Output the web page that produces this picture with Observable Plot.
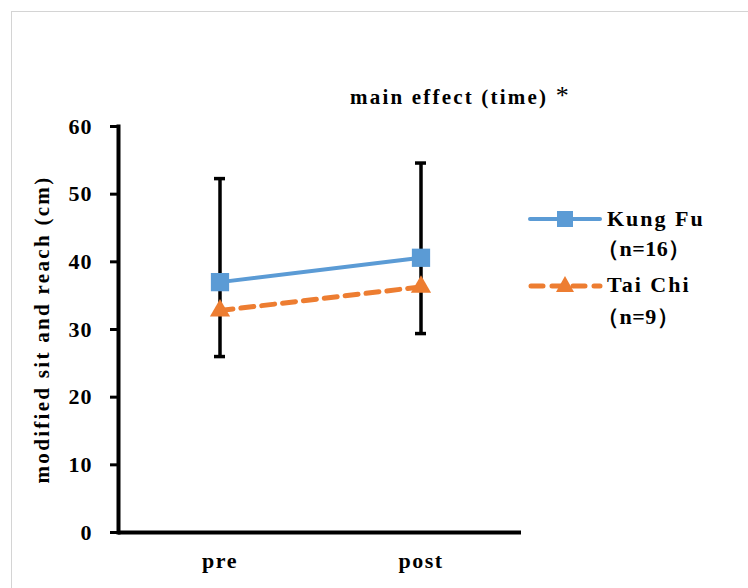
<!DOCTYPE html>
<html>
<head>
<meta charset="utf-8">
<script src="https://cdn.jsdelivr.net/npm/d3@7"></script>
<script src="https://cdn.jsdelivr.net/npm/@observablehq/plot@0.6"></script>
<style>
  html, body { margin: 0; padding: 0; background: #fff; overflow: hidden; }
  #wrap { position: relative; width: 748px; height: 588px; overflow: hidden; font-family: "Liberation Serif", "Times New Roman", serif; }
  #border { position: absolute; left: 11px; top: 11px; width: 800px; height: 700px; border: 1px solid #d4d4d4; }
  #chart { position: absolute; left: 0; top: 0; }
  #title { position: absolute; left: 350px; top: 83px; font-size: 21px; font-weight: bold; white-space: nowrap; line-height: 1; letter-spacing: 2.2px; }
  #title .ast { font-weight: normal; font-size: 26px; }
  .leg { position: absolute; font-size: 22px; font-weight: bold; white-space: nowrap; line-height: 1; letter-spacing: 2px; }
  .leg.n { letter-spacing: 0.5px; }
  .sw { position: absolute; }
  #chart g[aria-label="y-axis tick label"] { font-size: 22px; letter-spacing: 1px; }
  #chart g[aria-label="x-axis tick label"] { font-size: 22px; letter-spacing: 1.5px; }
  #chart g[aria-label="y-axis label"] { font-size: 21px; letter-spacing: 2.3px; }
</style>
</head>
<body>
<div id="wrap">
  <div id="border"></div>
  <div id="chart"></div>
  <div id="title">main effect (time) <span class="ast">*</span></div>
  <svg class="sw" style="left:528px;top:206px" width="76" height="26">
    <line x1="2" y1="13" x2="72" y2="13" stroke="#5B9BD5" stroke-width="4" stroke-linecap="round"/>
    <rect x="29" y="5" width="16" height="16" fill="#5B9BD5"/>
  </svg>
  <div class="leg" style="left:607px;top:208px">Kung Fu</div>
  <div class="leg n" style="left:597px;top:238px">（n=16）</div>
  <svg class="sw" style="left:528px;top:272px" width="76" height="26">
    <line x1="3" y1="14" x2="72" y2="14" stroke="#ED7D31" stroke-width="5" stroke-dasharray="12 9" stroke-linecap="round"/>
    <polygon points="37,4 46,20 28,20" fill="#ED7D31"/>
  </svg>
  <div class="leg" style="left:607px;top:274px">Tai Chi</div>
  <div class="leg n" style="left:597px;top:306px">（n=9）</div>
</div>
<script>
const times = ["pre", "post"];
const kungFu = [37.0, 40.6];
const taiChi = [32.8, 36.3];
const errLow = [26.0, 29.4];
const errHigh = [52.3, 54.6];
const yTicks = [0, 10, 20, 30, 40, 50, 60];

const kf = times.map((t, i) => ({time: t, value: kungFu[i]}));
const tc = times.map((t, i) => ({time: t, value: taiChi[i]}));
const err = times.map((t, i) => ({time: t, lo: errLow[i], hi: errHigh[i]}));

const font = '"Liberation Serif", "Times New Roman", serif';
const capInset = 95;

const chart = Plot.plot({
  width: 748,
  height: 588,
  marginLeft: 118,
  marginRight: 227,
  marginTop: 126,
  marginBottom: 56,
  style: {fontFamily: font, fontWeight: "bold", color: "#000", background: "transparent", overflow: "visible"},
  x: {type: "band", domain: times, padding: 0},
  y: {domain: [0, 60]},
  marks: [
    Plot.ruleX(err, {x: "time", y1: "lo", y2: "hi", stroke: "#000", strokeWidth: 3.5}),
    Plot.tickY(err, {x: "time", y: "lo", stroke: "#000", strokeWidth: 3.5, insetLeft: capInset, insetRight: capInset}),
    Plot.tickY(err, {x: "time", y: "hi", stroke: "#000", strokeWidth: 3.5, insetLeft: capInset, insetRight: capInset}),
    Plot.line(kf, {x: "time", y: "value", stroke: "#5B9BD5", strokeWidth: 4}),
    Plot.dot(kf, {x: "time", y: "value", symbol: "square", r: 10.3, fill: "#5B9BD5", stroke: "none"}),
    Plot.line(tc, {x: "time", y: "value", stroke: "#ED7D31", strokeWidth: 5, strokeDasharray: "13 8"}),
    Plot.dot(tc, {x: "time", y: "value", symbol: "triangle", r: 7.5, fill: "#ED7D31", stroke: "none"}),
    Plot.frame({anchor: "left", stroke: "#000", strokeWidth: 4}),
    Plot.ruleY([0], {stroke: "#000", strokeWidth: 4}),
    Plot.axisY({ticks: yTicks, tickSize: 8, tickPadding: 18, strokeWidth: 3, fontSize: 22, fontWeight: "bold",
      label: "modified sit and reach (cm)", labelAnchor: "center", labelArrow: "none", labelOffset: 84}),
    Plot.axisX({tickSize: 0, tickPadding: 20, fontSize: 22, fontWeight: "bold", label: null})
  ]
});
document.getElementById("chart").appendChild(chart);
</script>
</body>
</html>
